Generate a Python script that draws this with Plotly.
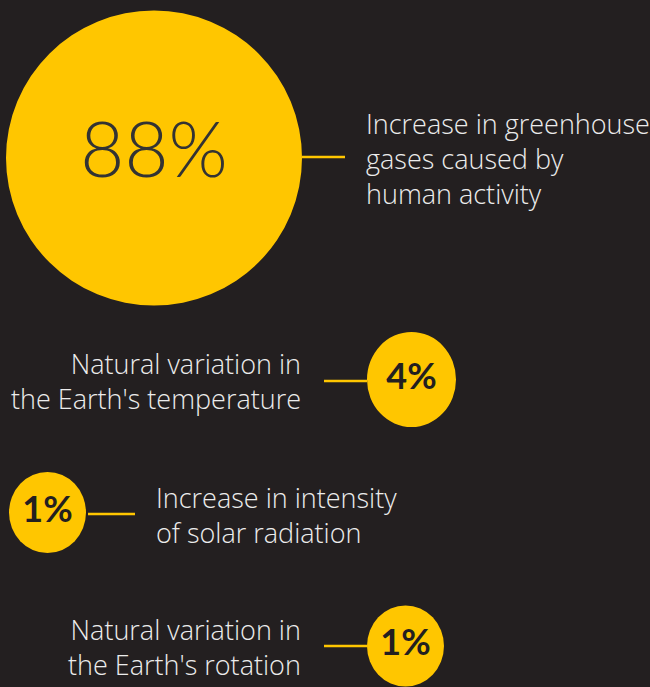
import plotly.graph_objects as go

# Share of observed warming attributed to each factor (%)
shares = [88, 4, 1, 1]
factors = [
    "Increase in greenhouse<br>gases caused by<br>human activity",
    "Natural variation in<br>the Earth's temperature",
    "Increase in intensity<br>of solar radiation",
    "Natural variation in<br>the Earth's rotation",
]

# Layout (pixel coordinates on a 650 x 687 canvas)
W, H = 650, 687
centers_x = [154, 411.5, 47.5, 405.5]
centers_y = [158, 379.5, 512.5, 646]
radii_x = [148, 44.5, 38.5, 38.5]
radii_y = [147.5, 47.5, 40.5, 40.5]
label_side = ["right", "left", "right", "left"]
label_x = [364, 303, 154, 303]
label_y = [158, 381, 515, 647]
connector = [(302, 345, 157), (324, 367, 381), (88, 135, 514), (324, 367, 646)]
pct_font = [76, 36, 36, 36]
pct_weight = [300, 700, 700, 700]

BG = "#231f20"
YELLOW = "#ffc600"
TEXT = "#ececec"

fig = go.Figure()
shapes = []
for i in range(len(shares)):
    shapes.append(dict(
        type="circle", xref="x", yref="y",
        x0=centers_x[i] - radii_x[i], x1=centers_x[i] + radii_x[i],
        y0=centers_y[i] - radii_y[i], y1=centers_y[i] + radii_y[i],
        fillcolor=YELLOW, line=dict(width=0), layer="below",
    ))
    x0, x1, yy = connector[i]
    shapes.append(dict(type="line", xref="x", yref="y", x0=x0, x1=x1, y0=yy, y1=yy,
                       line=dict(color=YELLOW, width=2.5)))

for i, v in enumerate(shares):
    fig.add_trace(go.Scatter(
        x=[centers_x[i]], y=[centers_y[i]], mode="text",
        text=[f"{v}%"], textposition="middle center",
        textfont=dict(family="Lato", size=pct_font[i], weight=pct_weight[i],
                      color="#333333" if i == 0 else BG),
        hoverinfo="skip", showlegend=False,
    ))

annotations = []
for i, t in enumerate(factors):
    left = label_side[i] == "right"
    annotations.append(dict(
        x=label_x[i], y=label_y[i], xref="x", yref="y", text=t, showarrow=False,
        xanchor="left" if left else "right", yanchor="middle",
        align="left" if left else "right",
        font=dict(family="Open Sans", size=27, weight=300, color=TEXT),
    ))

fig.update_layout(
    width=W, height=H, margin=dict(l=0, r=0, t=0, b=0),
    paper_bgcolor=BG, plot_bgcolor=BG,
    xaxis=dict(range=[0, W], visible=False, fixedrange=True),
    yaxis=dict(range=[H, 0], visible=False, fixedrange=True),
    shapes=shapes, annotations=annotations,
)

fig.write_html("out.html")
